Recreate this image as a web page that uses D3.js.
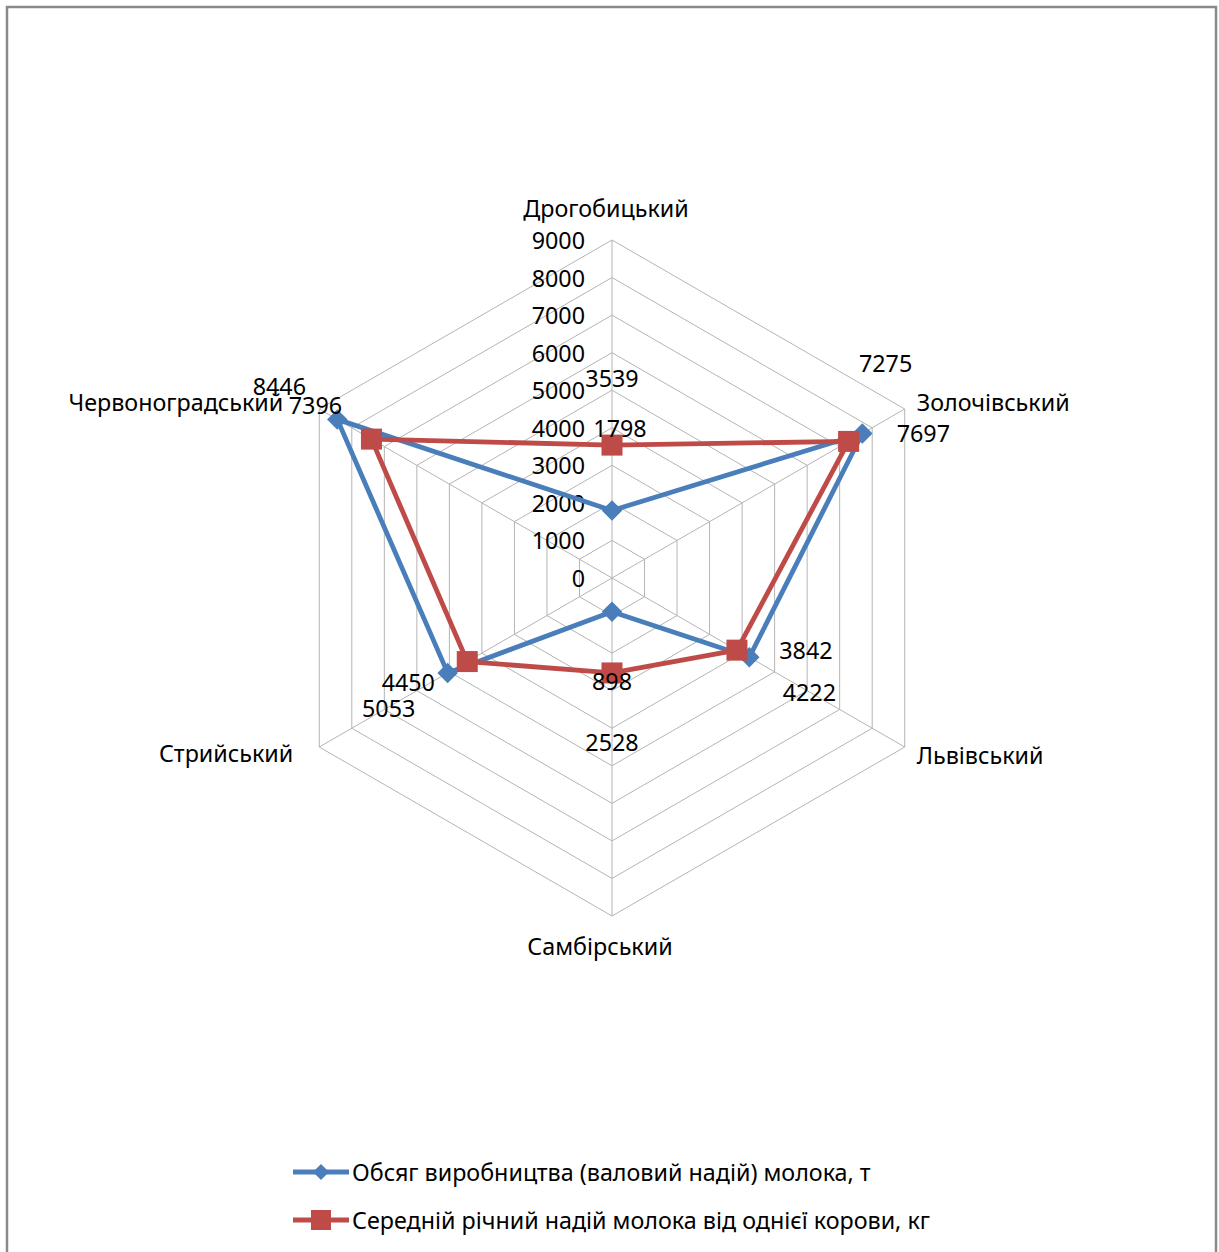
<!DOCTYPE html>
<html>
<head>
<meta charset="utf-8">
<script src="https://cdn.jsdelivr.net/npm/d3@7"></script>
<style>
  html, body { margin: 0; padding: 0; background: #fff; }
  svg { display: block; }
  text { font-family: "Noto Sans", "Open Sans", sans-serif; fill: #000; }
</style>
</head>
<body>
<svg id="chart" width="1219" height="1252"></svg>
<script>
// Districts, clockwise from the top
const categories = ["Дрогобицький", "Золочівський", "Львівський", "Самбірський", "Стрийський", "Червоноградський"];

// Gross milk production, t
const productionValues = [1798, 7697, 4222, 898, 5053, 8446];
// Average annual milk yield per cow, kg
const yieldValues = [3539, 7275, 3842, 2528, 4450, 7396];

const seriesNames = [
  "Обсяг виробництва (валовий надій) молока, т",
  "Середній річний надій молока від однієї корови, кг"
];

const tickValues = [0, 1000, 2000, 3000, 4000, 5000, 6000, 7000, 8000, 9000];

// ---- layout / style ----
const cx = 612, cy = 578, R = 338;
const colors = ["#4A7EBB", "#BE4B48"];
const fontSize = 23.3;

// data-label offsets (px) from each point, per series
const labelOffsets = [
  [[8, -82], [61, 0], [60, 35], [0, 69], [-59, 35], [-58, -33]],
  [[0, -67], [37, -78], [69, 0], [0, 69], [-59, 20], [-56, -34]]
];
// category label placement relative to outer vertex
const catLabelPos = [
  { dx: -6, dy: -32, anchor: "middle" },
  { dx: 12, dy: -7, anchor: "start" },
  { dx: 12, dy: 8, anchor: "start" },
  { dx: -12, dy: 30, anchor: "middle" },
  { dx: -26, dy: 6, anchor: "end" },
  { dx: -36, dy: -7, anchor: "end" }
];

const svg = d3.select("#chart");

// outer frame
svg.append("rect")
  .attr("x", 7).attr("y", 7).attr("width", 1209).attr("height", 1260)
  .attr("fill", "none").attr("stroke", "#8a8a8a").attr("stroke-width", 2.5);

const r = d3.scaleLinear().domain([0, 9000]).range([0, R]);
const angle = d3.scaleLinear().domain([0, categories.length]).range([0, 2 * Math.PI]);

const g = svg.append("g").attr("transform", `translate(${cx},${cy})`);

function pt(i, v) {
  const a = angle(i);
  return [r(v) * Math.sin(a), -r(v) * Math.cos(a)];
}

// grid rings
const ring = d3.lineRadial()
  .angle((d, i) => angle(i))
  .radius(d => r(d))
  .curve(d3.curveLinearClosed);

tickValues.filter(t => t > 0).forEach(t => {
  g.append("path")
    .attr("d", ring(categories.map(() => t)))
    .attr("fill", "none")
    .attr("stroke", "#b4b4b4")
    .attr("stroke-width", 1);
});

// spokes
categories.forEach((c, i) => {
  const [x, y] = pt(i, 9000);
  g.append("line")
    .attr("x1", 0).attr("y1", 0).attr("x2", x).attr("y2", y)
    .attr("stroke", "#b4b4b4").attr("stroke-width", 1);
});

// radial tick labels
g.selectAll("text.tick")
  .data(tickValues)
  .join("text")
  .attr("class", "tick")
  .attr("x", -27)
  .attr("y", d => -r(d))
  .attr("text-anchor", "end")
  .attr("dominant-baseline", "central")
  .attr("font-size", fontSize)
  .text(d => d);

// category labels
categories.forEach((c, i) => {
  const [x, y] = pt(i, 9000);
  const p = catLabelPos[i];
  g.append("text")
    .attr("x", x + p.dx)
    .attr("y", y + p.dy)
    .attr("text-anchor", p.anchor)
    .attr("dominant-baseline", "central")
    .attr("font-size", fontSize)
    .text(c);
});

// series
const series = [productionValues, yieldValues];
series.forEach((vals, s) => {
  g.append("path")
    .attr("d", ring(vals))
    .attr("fill", "none")
    .attr("stroke", colors[s])
    .attr("stroke-width", 4.8)
    .attr("stroke-linejoin", "round");
  vals.forEach((v, i) => {
    const [x, y] = pt(i, v);
    if (s === 0) {
      g.append("path")
        .attr("d", d3.symbol(d3.symbolSquare, 210)())
        .attr("transform", `translate(${x},${y}) rotate(45)`)
        .attr("fill", colors[s]);
    } else {
      g.append("rect")
        .attr("x", x - 10.5).attr("y", y - 10.5)
        .attr("width", 21).attr("height", 21)
        .attr("fill", colors[s]);
    }
  });
});

// data labels
series.forEach((vals, s) => {
  vals.forEach((v, i) => {
    const [x, y] = pt(i, v);
    const [dx, dy] = labelOffsets[s][i];
    g.append("text")
      .attr("x", x + dx).attr("y", y + dy)
      .attr("text-anchor", "middle")
      .attr("dominant-baseline", "central")
      .attr("font-size", fontSize)
      .text(v);
  });
});

// legend
const legend = svg.append("g");
[1172, 1220].forEach((ly, s) => {
  legend.append("line")
    .attr("x1", 293).attr("x2", 349).attr("y1", ly).attr("y2", ly)
    .attr("stroke", colors[s]).attr("stroke-width", 4.8);
  if (s === 0) {
    legend.append("path")
      .attr("d", d3.symbol(d3.symbolSquare, 130)())
      .attr("transform", `translate(321,${ly}) rotate(45)`)
      .attr("fill", colors[s]);
  } else {
    legend.append("rect")
      .attr("x", 311).attr("y", ly - 10).attr("width", 20).attr("height", 20)
      .attr("fill", colors[s]);
  }
  legend.append("text")
    .attr("x", 352).attr("y", ly)
    .attr("dominant-baseline", "central")
    .attr("font-size", fontSize)
    .text(seriesNames[s]);
});
</script>
</body>
</html>
